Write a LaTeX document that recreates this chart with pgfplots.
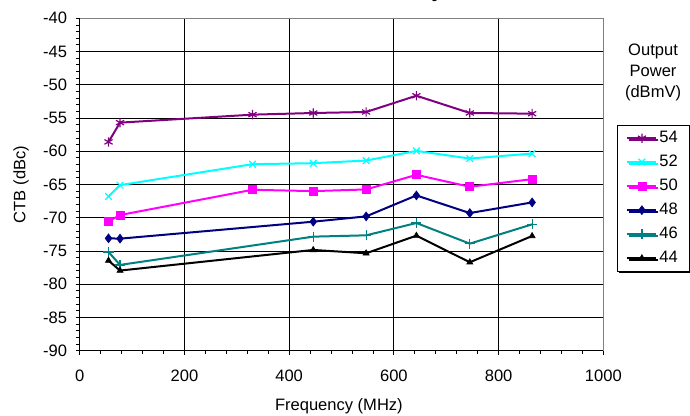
\documentclass[border=0pt]{standalone}
\usepackage{fontspec}
\setmainfont{Liberation Sans}
\usepackage{pgfplots}
\pgfplotsset{compat=1.18}
\usetikzlibrary{shadows}
\definecolor{cPurple}{RGB}{128,0,128}
\definecolor{cCyan}{RGB}{0,255,255}
\definecolor{cMag}{RGB}{255,0,255}
\definecolor{cNavy}{RGB}{0,0,128}
\definecolor{cTeal}{RGB}{0,128,128}
\newcommand\fs{\fontsize{12.4}{14.9}\selectfont}
\begin{document}
\begin{tikzpicture}
\begin{axis}[
 name=ax, at={(0,0)}, anchor=south west,
 scale only axis, width=392.7pt, height=249.3pt,
 xmin=0, xmax=1000, ymin=-90, ymax=-40,
 xtick={0,200,...,1000}, ytick={-90,-85,...,-40},
 minor x tick num=4, minor y tick num=4,
 axis x line=bottom, axis y line=left,
 axis line style={-, black, line width=0.75pt},
 tick align=outside, major tick length=3pt, minor tick length=2.5pt,
 tick style={black, line width=0.6pt},
 grid=major, major grid style={black, line width=0.6pt},
 /pgf/number format/assume math mode=true,
 /pgf/number format/1000 sep={},
 ticklabel style={font=\fs},
 xticklabel style={yshift=-8pt},
 yticklabel style={xshift=-3pt},
 label style={font=\fs},
 xlabel={Frequency (MHz)}, ylabel={CTB (dBc)},
 xlabel style={at={(axis description cs:0.495,0)}, anchor=center, yshift=-42pt},
 ylabel style={at={(axis description cs:0,0.5)}, anchor=center, yshift=44pt},
 legend style={at={(1.0254,0.679)}, anchor=north west, draw=black, line width=0.6pt,
   fill=white, font=\fs, inner xsep=7pt, inner ysep=3.6pt, row sep=6pt,
   nodes={inner xsep=1.5pt, inner ysep=0pt, text height=9pt, text depth=3pt},
   drop shadow={shadow xshift=1.5pt, shadow yshift=-1.5pt, fill=black, opacity=1}},
 legend cell align=left,
 legend image code/.code={\draw[mark repeat=2, mark phase=2] plot coordinates {(0pt,0pt)(10.9pt,0pt)(21.8pt,0pt)};},
]
\addplot[cPurple, line width=1.5pt, mark=asterisk, mark size=3.5pt, mark options={solid, line width=0.9pt}]
 coordinates {(55,-58.6) (77,-55.7) (330,-54.5) (446,-54.25) (547,-54.1) (643,-51.65) (745,-54.25) (864,-54.35)};
\addlegendentry{54}
\addplot[cCyan, line width=1.5pt, mark=x, mark size=3.5pt, mark options={solid, line width=0.9pt}]
 coordinates {(55,-66.8) (77,-65.1) (330,-61.95) (446,-61.8) (547,-61.4) (643,-59.95) (745,-61.1) (864,-60.35)};
\addlegendentry{52}
\addplot[cMag, line width=1.5pt, mark=square*, mark size=3pt, mark options={solid, line width=0.5pt}]
 coordinates {(55,-70.55) (77,-69.6) (330,-65.8) (446,-66.0) (547,-65.75) (643,-63.55) (745,-65.35) (864,-64.2)};
\addlegendentry{50}
\addplot[cNavy, line width=1.5pt, mark=diamond*, mark size=3.3pt, mark options={solid, line width=0.5pt}]
 coordinates {(55,-73.1) (77,-73.15) (446,-70.6) (547,-69.8) (643,-66.65) (745,-69.3) (864,-67.7)};
\addlegendentry{48}
\addplot[cTeal, line width=1.5pt, mark=+, mark size=3.8pt, mark options={solid, line width=0.9pt}]
 coordinates {(55,-75.15) (77,-77.1) (446,-72.85) (547,-72.65) (643,-70.8) (745,-73.9) (864,-71.0)};
\addlegendentry{46}
\addplot[black, line width=1.5pt, mark=triangle*, mark size=2.6pt, mark options={solid, line width=0.5pt}]
 coordinates {(55,-76.45) (77,-77.95) (446,-74.85) (547,-75.35) (643,-72.7) (745,-76.7) (864,-72.75)};
\addlegendentry{44}
\end{axis}
\draw[black!50, line width=0.75pt] (ax.north west) -- (ax.north east) -- (ax.south east);
\node[font={\fontsize{12.4}{15.75}\selectfont}, align=center] at ([xshift=430pt, yshift=-40.8pt]ax.north west) {Output\\Power\\(dBmV)};
\node[font={\bfseries\fontsize{15}{18}\selectfont}, anchor=base east, inner sep=0pt] at ([xshift=272.5pt, yshift=15.9pt]ax.north west) {CTB Linearity};
\pgfresetboundingbox
\useasboundingbox (-59.78pt,-48.98pt) rectangle (457.7pt,263pt);
\end{tikzpicture}
\end{document}
